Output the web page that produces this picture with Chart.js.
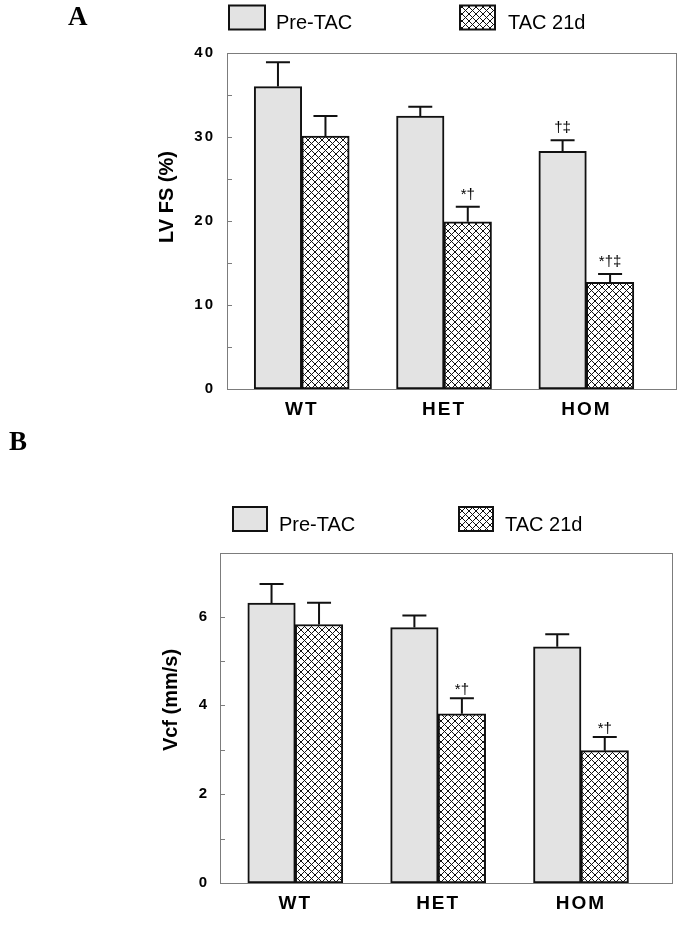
<!DOCTYPE html>
<html><head><meta charset="utf-8">
<script src="https://cdn.jsdelivr.net/npm/chart.js@4.4.1/dist/chart.umd.min.js"></script>
<style>
html,body{margin:0;padding:0;background:#fff;}
body{width:692px;height:926px;position:relative;overflow:hidden;}
.wrap{position:absolute;left:0;width:692px;}
#wa{top:0;height:420px;} #wb{top:420px;height:506px;}
canvas{display:block;}
</style></head><body>
<div class="wrap" id="wa"><canvas id="ca" width="692" height="420"></canvas></div>
<div class="wrap" id="wb"><canvas id="cb" width="692" height="506"></canvas></div>
<script>
// ---- data ----
const categories = ['WT', 'HET', 'HOM'];
const seriesNames = ['Pre-TAC', 'TAC 21d'];

const lvfsPre = [36.0, 32.5, 28.3];
const lvfsPreSem = [2.9, 1.1, 1.3];
const lvfsTac = [30.1, 19.9, 12.7];
const lvfsTacSem = [2.4, 1.8, 1.0];
const lvfsPreMarks = ['', '', '†‡'];
const lvfsTacMarks = ['', '*†', '*†‡'];
const lvfsTicks = [0, 10, 20, 30, 40];
const lvfsMinorTicks = [5, 15, 25, 35];

const vcfPre = [6.30, 5.75, 5.32];
const vcfPreSem = [0.43, 0.27, 0.28];
const vcfTac = [5.82, 3.81, 2.98];
const vcfTacSem = [0.49, 0.35, 0.31];
const vcfPreMarks = ['', '', ''];
const vcfTacMarks = ['', '*†', '*†'];
const vcfTicks = [0, 2, 4, 6];
const vcfMinorTicks = [1, 3, 5];

// ---- styles ----
const SANS = '"Liberation Sans", Arial, sans-serif';
const SERIF = '"Liberation Serif", "Times New Roman", serif';
const PRE_FILL = '#e3e3e3';
const EDGE = '#111111';
const FRAME = '#7c7c7c';

function makeHatch(canvas) {
  const s = 7;
  const t = document.createElement('canvas');
  t.width = s; t.height = s;
  const g = t.getContext('2d');
  g.fillStyle = '#ffffff'; g.fillRect(0, 0, s, s);
  g.strokeStyle = '#111111'; g.lineWidth = 1;
  g.beginPath();
  for (const o of [-s, 0, s]) {
    g.moveTo(o, 0); g.lineTo(o + s, s);
    g.moveTo(o + s, 0); g.lineTo(o, s);
  }
  g.stroke();
  return canvas.getContext('2d').createPattern(t, 'repeat');
}

function panelPlugin(o) {
  return {
    id: 'panel' + o.letter,
    beforeDraw(chart) { chart.ctx.letterSpacing = '2px'; },
    beforeDatasetsDraw(chart) {
      const ctx = chart.ctx; ctx.letterSpacing = '0px';
      const a = chart.chartArea, y = chart.scales.y;
      ctx.save();
      ctx.strokeStyle = FRAME; ctx.lineWidth = 1;
      ctx.strokeRect(Math.round(a.left) + 0.5, Math.round(a.top) + 0.5,
        Math.round(a.right - a.left), Math.round(a.bottom - a.top));
      ctx.beginPath();
      for (const v of o.major.concat(o.minor)) {
        const p = Math.round(y.getPixelForValue(v)) + 0.5;
        ctx.moveTo(a.left, p); ctx.lineTo(a.left + 5, p);
      }
      ctx.stroke();
      ctx.restore();
    },
    afterDatasetsDraw(chart) {
      const ctx = chart.ctx, y = chart.scales.y;
      ctx.save();
      ctx.letterSpacing = '0px';
      o.sem.forEach((sem, di) => {
        const meta = chart.getDatasetMeta(di);
        const vals = chart.data.datasets[di].data;
        meta.data.forEach((el, i) => {
          const top = y.getPixelForValue(vals[i].y + sem[i]);
          ctx.strokeStyle = EDGE; ctx.lineWidth = 2;
          ctx.beginPath();
          ctx.moveTo(el.x, el.y); ctx.lineTo(el.x, top);
          ctx.moveTo(el.x - 12, top); ctx.lineTo(el.x + 12, top);
          ctx.stroke();
          const m = o.marks[di][i];
          if (m) {
            ctx.fillStyle = '#000';
            ctx.font = '15px ' + SANS;
            ctx.textAlign = 'center'; ctx.textBaseline = 'alphabetic';
            ctx.fillText(m, el.x, top - o.markGap);
          }
        });
      });
      ctx.restore();
    },
    afterDraw(chart) {
      const ctx = chart.ctx;
      ctx.save();
      ctx.letterSpacing = '0px';
      // panel letter
      ctx.fillStyle = '#000';
      ctx.font = 'bold 27px ' + SERIF;
      ctx.textAlign = 'left'; ctx.textBaseline = 'alphabetic';
      ctx.fillText(o.letter, o.letterX, o.letterY);
      // legend
      const fills = [PRE_FILL, o.hatch];
      o.legend.forEach((L, k) => {
        ctx.fillStyle = fills[k];
        ctx.fillRect(L.x, o.legendY, L.w, 24);
        ctx.strokeStyle = EDGE; ctx.lineWidth = 2;
        ctx.strokeRect(L.x, o.legendY, L.w, 24);
        ctx.fillStyle = '#000';
        ctx.font = '20px ' + SANS;
        ctx.textAlign = 'left'; ctx.textBaseline = 'alphabetic';
        ctx.fillText(seriesNames[k], L.tx, o.legendY + 23.5);
      });
      // y title
      ctx.translate(o.titleX, o.titleY);
      ctx.rotate(-Math.PI / 2);
      ctx.font = 'bold 20px ' + SANS;
      ctx.textAlign = 'center'; ctx.textBaseline = 'middle';
      ctx.fillText(o.title, 0, 0);
      ctx.restore();
    }
  };
}

function makeChart(id, c) {
  const canvas = document.getElementById(id);
  const hatch = makeHatch(canvas);
  const common = { borderColor: EDGE, borderWidth: 2, borderSkipped: false, barThickness: 47.5 };
  return new Chart(canvas, {
    type: 'bar',
    data: {
      datasets: [
        Object.assign({ label: seriesNames[0], backgroundColor: PRE_FILL,
          data: c.pre.map((v, i) => ({ x: i, y: v })) }, common),
        Object.assign({ label: seriesNames[1], backgroundColor: hatch,
          data: c.tac.map((v, i) => ({ x: i, y: v })) }, common)
      ]
    },
    options: {
      responsive: false, animation: false, devicePixelRatio: 1,
      layout: { padding: { top: c.padTop, right: c.padRight, bottom: c.padBottom, left: 0 } },
      plugins: { legend: { display: false }, tooltip: { enabled: false } },
      scales: {
        x: {
          type: 'linear', min: c.xmin, max: c.xmax, offset: false,
          grid: { display: false, drawTicks: false }, border: { display: false },
          afterBuildTicks: s => { s.ticks = categories.map((_, i) => ({ value: i })); },
          afterFit: s => { s.height = c.xh; },
          ticks: { callback: v => categories[v] ?? '', color: '#000', padding: 9,
            autoSkip: false, maxRotation: 0,
            font: { family: SANS, size: 19, weight: 'bold' } }
        },
        y: {
          min: 0, max: c.ymax,
          grid: { display: false, drawTicks: false }, border: { display: false },
          afterBuildTicks: s => { s.ticks = c.major.map(v => ({ value: v })); },
          afterFit: s => { s.width = c.yw; },
          ticks: { color: '#000', padding: c.ypad,
            font: { family: SANS, size: 15, weight: 'bold' } }
        }
      }
    },
    plugins: [panelPlugin(Object.assign({ hatch }, c))]
  });
}

makeChart('ca', {
  letter: 'A', letterX: 68, letterY: 25,
  pre: lvfsPre, tac: lvfsTac, sem: [lvfsPreSem, lvfsTacSem], marks: [lvfsPreMarks, lvfsTacMarks],
  major: lvfsTicks, minor: lvfsMinorTicks, ymax: 40, markGap: 8,
  padTop: 53, padRight: 16, padBottom: 0, xh: 31, yw: 227, ypad: 12,
  xmin: -0.525, xmax: 2.63,
  legendY: 5.5, legend: [{ x: 229, w: 36, tx: 276 }, { x: 460, w: 35, tx: 508 }],
  title: 'LV FS (%)', titleX: 167, titleY: 197
});

makeChart('cb', {
  letter: 'B', letterX: 9, letterY: 30,
  pre: vcfPre, tac: vcfTac, sem: [vcfPreSem, vcfTacSem], marks: [vcfPreMarks, vcfTacMarks],
  major: vcfTicks, minor: vcfMinorTicks, ymax: 7.43, markGap: 4,
  padTop: 133, padRight: 20, padBottom: 11, xh: 32, yw: 220, ypad: 11,
  xmin: -0.527, xmax: 2.637,
  legendY: 87, legend: [{ x: 233, w: 34, tx: 279 }, { x: 459, w: 34, tx: 505 }],
  title: 'Vcf (mm/s)', titleX: 171, titleY: 280
});
</script>
</body></html>
